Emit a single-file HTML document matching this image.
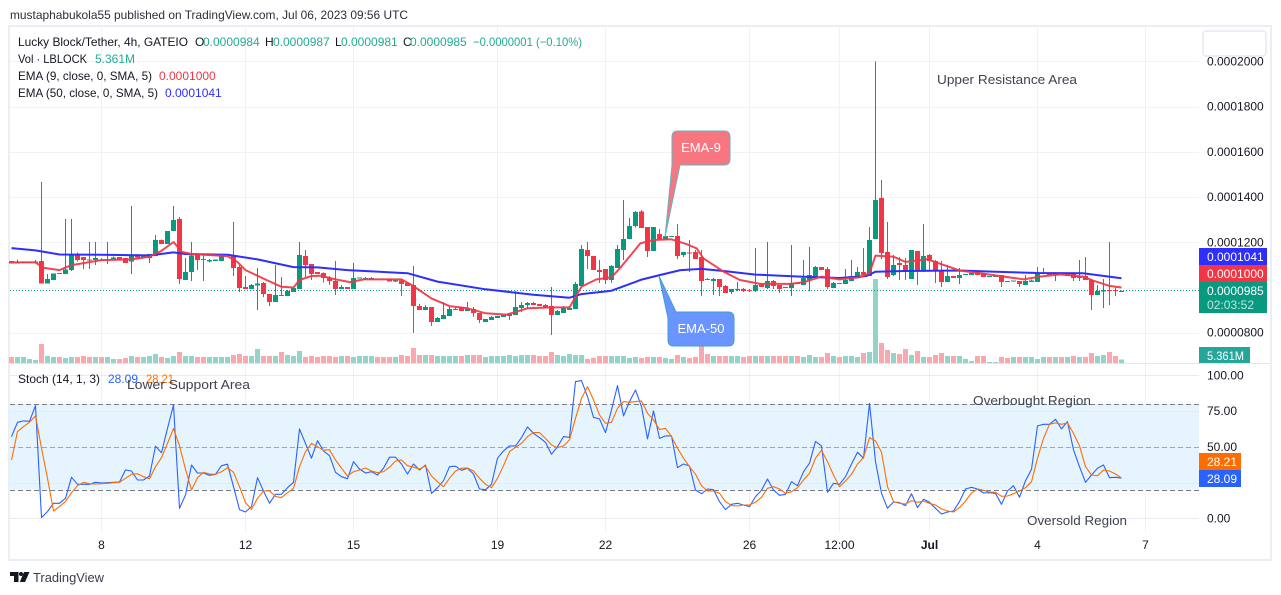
<!DOCTYPE html>
<html lang="en">
<head>
<meta charset="utf-8">
<title>Lucky Block/Tether chart</title>
<style>
html,body{margin:0;padding:0;background:#fff;width:1281px;height:595px;overflow:hidden}
svg{display:block}
text{font-family:"Liberation Sans",sans-serif;font-size:12px;fill:#131722}
</style>
</head>
<body>
<svg id="chart" xmlns="http://www.w3.org/2000/svg" width="1281" height="595" viewBox="0 0 1281 595">
  <text x="10" y="19" textLength="398" lengthAdjust="spacingAndGlyphs" fill="#131722" style="fill:#2a2e39">mustaphabukola55 published on TradingView.com, Jul 06, 2023 09:56 UTC</text>
  <rect x="9" y="26" width="1262" height="534" fill="#fff" stroke="#eceef3" stroke-width="2"/>
  <g id="grid"></g>
  <g id="stochBand"></g>
  <g id="volume"></g>
  <line x1="10" x2="1270" y1="363.5" y2="363.5" stroke="#e3e5ec" stroke-width="1"/>
  <line x1="10" x2="1199" y1="290.5" y2="290.5" stroke="#089981" stroke-width="1" stroke-dasharray="1 2"/>
  <g id="candles" shape-rendering="crispEdges"></g>
  <g id="emaLines"></g>
  <g id="stochLines"></g>

  <g>
    <path d="M678 131 H724 Q730 131 730 137 V159 Q730 165 724 165 H680 L665 237 L672 165 V137 Q672 131 678 131 Z" fill="#f7767f" stroke="#66b3c2" stroke-width="1"/>
    <text x="701" y="152" text-anchor="middle" style="fill:#fff;font-size:13px">EMA-9</text>
  </g>
  <g>
    <path d="M659 276 L676 312 H728 Q734 312 734 318 V340 Q734 346 728 346 H674 Q668 346 668 340 V318 Z" fill="#6a94ff" stroke="#3f9fd2" stroke-width="1"/>
    <text x="701" y="333" text-anchor="middle" style="fill:#fff;font-size:13px">EMA-50</text>
  </g>

  <g>
    <text x="18" y="46" textLength="170" lengthAdjust="spacingAndGlyphs">Lucky Block/Tether, 4h, GATEIO</text>
    <text x="195" y="46">O</text>
    <text x="203" y="46" style="fill:#22ab94">0.0000984</text>
    <text x="265" y="46">H</text>
    <text x="273" y="46" style="fill:#22ab94">0.0000987</text>
    <text x="335" y="46">L</text>
    <text x="341" y="46" style="fill:#22ab94">0.0000981</text>
    <text x="403" y="46">C</text>
    <text x="410" y="46" style="fill:#22ab94">0.0000985</text>
    <text x="473" y="46" textLength="109" lengthAdjust="spacingAndGlyphs" style="fill:#22ab94">−0.0000001 (−0.10%)</text>
    <text x="18" y="63" textLength="69" lengthAdjust="spacingAndGlyphs">Vol · LBLOCK</text>
    <text x="95" y="63" style="fill:#22ab94">5.361M</text>
    <text x="18" y="80" textLength="134" lengthAdjust="spacingAndGlyphs">EMA (9, close, 0, SMA, 5)</text>
    <text x="159" y="80" style="fill:#f23645">0.0001000</text>
    <text x="18" y="97" textLength="140" lengthAdjust="spacingAndGlyphs">EMA (50, close, 0, SMA, 5)</text>
    <text x="165" y="97" style="fill:#2e2eff">0.0001041</text>
    <text x="18" y="383" textLength="82" lengthAdjust="spacingAndGlyphs">Stoch (14, 1, 3)</text>
    <text x="108" y="383" textLength="30" lengthAdjust="spacingAndGlyphs" style="fill:#2962ff">28.09</text>
    <text x="146" y="383" textLength="28" lengthAdjust="spacingAndGlyphs" style="fill:#ff6d00">28.21</text>
  </g>

  <text x="937" y="84" textLength="140" lengthAdjust="spacingAndGlyphs" style="font-size:13px;fill:#3f4350">Upper Resistance Area</text>
  <text x="127" y="389" textLength="123" lengthAdjust="spacingAndGlyphs" style="font-size:13px;fill:#3f4350">Lower Support Area</text>
  <text x="973" y="405" textLength="118" lengthAdjust="spacingAndGlyphs" style="font-size:13px;fill:#3f4350">Overbought Region</text>
  <text x="1027" y="525" textLength="100" lengthAdjust="spacingAndGlyphs" style="font-size:13px;fill:#3f4350">Oversold Region</text>

  <g id="priceAxis"></g>
  <g id="stochAxis"></g>
  <g id="timeAxis"></g>

  <rect x="1203" y="31" width="63" height="25" rx="3" fill="#fff" stroke="#e7e9f0" stroke-width="1.5"/>

  <g>
    <rect x="1199" y="248" width="68" height="17" fill="#2e2eff"/>
    <text x="1207" y="261" style="fill:#fff">0.0001041</text>
    <rect x="1199" y="265" width="68" height="17" fill="#f23645"/>
    <text x="1207" y="278" style="fill:#fff">0.0001000</text>
    <rect x="1199" y="282" width="68" height="31" fill="#089981"/>
    <text x="1207" y="295" style="fill:#fff">0.0000985</text>
    <text x="1207" y="309" textLength="47" style="fill:#bfe6df">02:03:52</text>
    <rect x="1199" y="347" width="51" height="16" fill="#26a69a"/>
    <text x="1207" y="360" textLength="37" lengthAdjust="spacingAndGlyphs" style="fill:#fff">5.361M</text>
    <rect x="1199" y="453" width="42" height="17" fill="#ff6d00"/>
    <text x="1207" y="466" style="fill:#fff">28.21</text>
    <rect x="1199" y="470" width="42" height="17" fill="#2962ff"/>
    <text x="1207" y="483" style="fill:#fff">28.09</text>
  </g>

  <g>
    <path d="M10 572 H18.5 V582 H14 V576 H10 Z M24 572 H29.5 L25 582 H19.8 Z" fill="#131722"/>
    <circle cx="21" cy="574" r="2" fill="#131722"/>
    <text x="33" y="582" textLength="71" lengthAdjust="spacingAndGlyphs" style="font-size:13px;fill:#3a3e4a">TradingView</text>
  </g>
</svg>

<script>
const opens=[1117,1105,1109,1109,1109,1117,1017,1034,1064,1059,
1077,1148,1134,1124,1121,1124,1121,1123,1134,1130,
1114,1143,1132,1130,1139,1210,1192,1249,1302,1033,
1068,1143,1126,1114,1118,1118,1139,1143,1090,1002,
993,1008,1020,971,936,967,962,980,993,1139,
1104,1068,1063,1045,1029,994,1002,994,1041,1036,
1036,1039,1039,1038,1027,1032,1020,1011,918,901,
914,848,861,874,901,914,896,905,887,848,
857,865,870,874,879,910,923,932,927,923,
918,879,887,901,905,1007,1166,1139,1077,1082,
1033,1086,1166,1214,1272,1335,1268,1161,1237,1213,
1223,1228,1144,1154,1157,1135,1038,1029,1038,1007,
980,989,994,989,985,1016,998,1029,1011,1002,
998,1020,1011,1033,1047,1091,1082,998,1020,1016,
1029,1042,1069,1051,1214,1396,1157,1055,1108,1100,
1038,1161,1073,1144,1117,1077,1024,1051,1042,1055,
1055,1069,1064,1048,1048,1055,1029,1026,1029,1011,
1024,1024,1060,1064,1055,1063,1051,1064,1042,1051,
1033,967,982,989,988,984];
const highs=[1117,1124,1114,1114,1121,1466,1059,1062,1064,1302,
1302,1154,1134,1201,1201,1130,1201,1136,1134,1130,
1360,1148,1140,1148,1232,1213,1249,1360,1311,1130,
1201,1143,1151,1126,1123,1143,1148,1289,1099,1051,
1015,1086,1024,971,1099,1046,989,998,1201,1165,
1104,1068,1067,1051,1117,1011,1002,1108,1045,1047,
1047,1039,1039,1038,1039,1039,1020,1095,927,923,
914,870,936,914,914,914,936,914,887,861,
874,874,879,887,985,936,936,936,927,927,
1002,901,918,918,1024,1188,1201,1139,1122,1082,
1100,1188,1387,1307,1338,1343,1268,1268,1259,1228,
1228,1281,1157,1210,1166,1166,1042,1042,1038,1011,
994,1024,998,994,1175,1016,1201,1033,1011,1002,
1188,1020,1122,1179,1095,1091,1091,1024,1020,1082,
1122,1091,1175,1268,2000,1475,1290,1144,1135,1131,
1166,1161,1281,1148,1122,1117,1100,1051,1086,1060,
1064,1069,1064,1051,1051,1055,1029,1030,1029,1055,
1036,1091,1086,1064,1060,1063,1064,1064,1122,1135,
1033,1011,1038,1201,1002,987];
const lows=[1105,1105,1109,1109,1107,1017,1017,1034,1061,1059,
1073,1114,1081,1081,1099,1118,1104,1121,1121,1108,
1059,1133,1132,1108,1139,1192,1192,1249,1015,1033,
1028,1077,1028,1111,1118,1118,1139,1051,980,993,
993,900,958,918,936,962,962,980,993,1046,
1033,1059,1022,1011,967,994,994,994,1041,1033,
1033,1036,1036,1027,1024,963,1007,799,901,901,
830,848,861,874,901,896,896,870,843,848,
857,865,870,857,879,892,905,923,918,910,
790,879,887,901,905,1007,1082,1077,1020,1016,
1020,1086,1122,1214,1266,1263,1135,1161,1210,1213,
1223,1126,1135,1069,1126,963,1033,967,963,976,
971,985,980,980,980,1002,994,994,976,999,
963,1016,1011,985,1047,1077,994,998,1016,1016,
1029,1042,1055,1051,1214,1126,1038,1051,1033,1033,
1038,1011,1069,1077,1020,1002,1024,1042,1016,1055,
1055,1055,1047,1048,1048,1002,1026,1026,1002,1011,
1024,1024,1060,1055,1029,1055,1051,1029,1029,1033,
901,967,910,923,963,981];
const closes=[1105,1112,1114,1114,1114,1017,1037,1062,1061,1080,
1148,1121,1121,1121,1130,1121,1124,1132,1121,1108,
1143,1133,1140,1148,1210,1192,1249,1298,1037,1068,
1142,1121,1121,1121,1123,1143,1148,1086,998,993,
1011,1018,971,936,967,962,984,998,1143,1099,
1059,1059,1041,1029,994,1002,994,1042,1045,1041,
1042,1036,1036,1027,1033,1016,1007,918,901,914,
848,865,879,905,905,896,905,887,857,861,
870,874,879,883,914,923,932,923,918,910,
879,896,910,910,1016,1170,1139,1077,1069,1033,
1095,1170,1214,1272,1334,1263,1161,1268,1210,1228,
1228,1139,1157,1150,1126,1029,1033,1038,1002,976,
994,994,985,986,1011,1002,1029,1007,994,999,
1020,1016,1042,1055,1091,1077,1002,1020,1016,1033,
1051,1069,1055,1210,1387,1153,1047,1100,1100,1077,
1166,1073,1139,1117,1077,1024,1051,1042,1055,1060,
1064,1055,1047,1051,1051,1024,1026,1030,1016,1029,
1030,1060,1064,1055,1060,1055,1064,1042,1047,1033,
967,985,989,985,985,985];
const volumes=[8.7,8.7,8.7,5.8,4.4,27.6,10.2,8.7,8.7,7.3,
8.7,8.7,10.2,8.7,8.7,8.7,8.7,5.8,5.8,7.3,
10.2,8.7,8.7,10.2,13.1,8.7,7.3,10.2,16,10.2,
10.2,8.7,8.7,8.7,8.7,8.7,8.7,11.6,13.1,10.2,
10.2,20.3,10.2,10.2,10.2,16,11.6,10.2,17.4,8.7,
10.2,8.7,10.2,10.2,8.7,10.2,10.2,8.7,10.2,10.2,
10.2,8.7,8.7,8.7,8.7,11.6,10.2,21.8,11.6,11.6,
11.6,10.2,10.2,10.2,10.2,10.2,11.6,11.6,11.6,8.7,
10.2,10.2,10.2,11.6,10.2,11.6,11.6,11.6,10.2,10.2,
16,11.6,10.2,13.1,11.6,11.6,5.8,7.3,10.2,10.2,
10.2,10.2,10.2,7.3,8.7,7.3,8.7,8.7,8.7,7.3,
5.8,11.6,8.7,7.3,8.7,24.7,13.1,10.2,10.2,10.2,
10.2,10.2,8.7,10.2,10.2,10.2,10.2,10.2,10.2,10.2,
10.2,10.2,8.7,11.6,8.7,8.7,14.5,10.2,8.7,10.2,
10.2,8.7,14.5,16,121.8,29,18.9,14.5,13.1,20.3,
11.6,17.4,8.7,8.7,11.6,14.5,10.2,10.2,10.2,5.8,
2.9,10.2,10.2,1.5,1.5,8.7,7.3,8.7,8.7,8.7,
8.7,5.8,8.7,8.7,8.7,8.7,8.7,10.2,8.7,8.7,
14.5,10.2,11.6,16,10.2,5.361];
const ema9Bars=[0,4,5.3,8,10,15,20,23,25,27,28.4,30,36,37.6,39,42.5,45,47,48,50,51.5,54,56.4,58.7,65,66.7,70,73,76,79,82.5,86,90,93,95,97.5,100,101.4,104.8,107,110,112.6,114.2,115.3,118.7,121.4,124.8,129.8,132,135,138,141.4,143,144,147,149,152.6,158,163.7,168.7,171.4,174.8,178.6,180.3,183,185];
const ema9Values=[1111,1111,1087,1077,1099,1121,1124,1136,1162,1201,1158,1148,1139,1114,1077,1033,1003,1000,1033,1051,1052,1036,1024,1036,1036,1011,952,918,908,886,880,908,912,912,1004,1036,1045,1085,1195,1210,1213,1191,1173,1129,1070,1033,1016,1016,1023,1048,1036,1045,1063,1141,1136,1113,1125,1075,1055,1036,1048,1058,1048,1030,1007,1000];
const ema50Bars=[0,4,8,15,23,27,29,36,41,47,51,56,66,71,79,87,93,95,100,105,108,111.5,115,118.7,124,131.5,138,142.5,144,149,158,164,171,178.6,185];
const ema50Values=[1174,1164,1146,1145,1142,1155,1148,1145,1124,1090,1089,1077,1063,1026,992,968,955,971,986,1035,1055,1077,1082,1073,1057,1048,1042,1051,1070,1073,1075,1070,1064,1063,1041];
const stochK=[57.1,67.1,68.1,67.8,78.8,0.5,4.7,10.5,10.5,14,
28.7,23.8,23.8,23.8,25.2,24.7,24.9,25.2,25.4,33.8,
33.1,26.8,26.8,29.6,50.4,45.9,62.9,79.3,7,16.3,
37.3,31.7,31.7,30.1,30.8,36.8,37.8,22.1,6.1,4.4,
8.2,28.4,19.1,10.5,16.8,16.8,21.4,25.2,62.5,52.4,
42,54.3,47.1,43.8,32.2,29.1,27.7,39.6,34.5,31.7,
32.6,30.3,35,42.7,42.7,38,31,38,33.8,37.3,
17.5,21.4,26.3,36.1,36.4,33.6,35,31,20.5,20,
23.8,42,47.1,50.6,50.6,56.4,63.9,59.4,56.4,53.1,
44.8,50.1,57.1,56.6,95.6,96.3,85.1,70.6,69.5,59.9,
75.8,92.8,71.6,81.6,89.7,78.1,55.5,75.1,55.9,57.6,
57.6,35.4,38,36.6,19.8,17.2,20.5,20,11.7,6.1,
9.8,10.5,9.3,8.2,15.2,19.6,27.5,19.8,16.1,16.8,
25.6,22.8,32.6,38.5,53.8,50.6,18.2,24.5,23.8,29.1,
38,46.2,42,80.4,39.6,17.5,7,11.4,11,8.9,
17.2,7.5,13.3,11.2,7,3,4.4,5.1,11.7,20.5,
21.7,20.5,17.7,17.9,17.5,9.8,19.1,22.8,14.7,26.3,
34.3,64.6,65.7,65.7,69.2,62.5,67.6,47.8,36.1,25.2,
30.3,35,37.3,28.4,28.7,28.09];
const stochD=[40.8,60.6,64.1,67.1,71.6,49,28,5.1,8.2,11.7,
17.9,22.8,25.2,24.2,24,24.2,24.5,24.9,25.2,28,
30.8,31.2,29.1,27.7,36.1,42.4,52.4,62.9,50.6,34.3,
19.8,28.4,32.2,31,30.8,32.6,35.4,32.2,22.1,11,
6.3,14,19.1,19.3,15.2,14.5,17.9,21,36.1,46.6,
52.4,50.1,47.6,48,40.8,35,29.6,32.6,33.8,35.2,
33.1,31.9,32.6,35.7,40.1,40.8,36.8,35.7,34.5,36.6,
29.6,25.6,22.1,28,33.1,35,35.2,33.1,28,23.8,
21.4,28,36.8,46.6,49.7,52.4,57.1,59.9,59.9,55.9,
51.3,49.4,50.6,54.8,69.9,83.9,92.1,82.8,72.3,66.4,
67.1,76.9,81.6,81.1,81.6,82.1,73.4,68.8,62.2,62.9,
57.1,49,42,36.1,30.8,22.8,19.1,19.1,17.5,11.7,
8.9,8.6,9.3,9.3,11.2,14.7,21,22.1,20.5,17.5,
18.6,21.4,26.8,31.5,42,47.6,39.6,30.3,22.1,26.1,
30.8,38,42.4,56.4,54.1,46.2,22.1,11.7,10.5,10,
12.4,11.2,12.1,10.5,9.3,6.5,5.1,4.4,7.5,12.1,
17.7,20.5,19.6,18.4,18.2,15.4,15.6,17.2,19.1,21.4,
25.6,42,55.9,65.7,66.7,65.7,66.7,59.4,50.6,36.1,
30.3,29.8,33.8,33.1,31,28.21];
const priceTicks=[2000,1800,1600,1400,1200,1000,800];
const stochTicks=[100,75,50,25,0];
const stochLevels=[80,50,20];
const timeLabels=["8","12","15","19","22","26","12:00","Jul","4","7"];
const timeBars=[15,39,57,81,99,123,138,153,171,189];

const NS='http://www.w3.org/2000/svg';
const paneLeft=10, paneRight=1199;
function xBar(i){return 11.5+6*i;}
function yPrice(p){return 287.5+(1000-p)/4.42;}
function yStoch(v){return 518.3-1.43*v;}
function hVolume(v){return v/1.45;}
function mk(parent,tag,attrs,txt){
  const el=document.createElementNS(NS,tag);
  for(const k in attrs){el.setAttribute(k,attrs[k]);}
  if(txt!==undefined){el.textContent=txt;}
  parent.appendChild(el);
  return el;
}
const gGrid=document.getElementById('grid');
const gBand=document.getElementById('stochBand');
const gVol=document.getElementById('volume');
const gCandles=document.getElementById('candles');
const gEma=document.getElementById('emaLines');
const gStoch=document.getElementById('stochLines');
const gPrice=document.getElementById('priceAxis');
const gStochAxis=document.getElementById('stochAxis');
const gTime=document.getElementById('timeAxis');
const gridColor='#f1f2f6';

timeBars.forEach(function(b,k){
  const x=Math.floor(xBar(b))+0.5;
  const ln=mk(gGrid,'line',{x1:x,x2:x,y1:27,y2:532,stroke:gridColor,'stroke-width':1});
  
  
  const strong=timeLabels[k]==='Jul';
  const t=mk(gTime,'text',{x:x,y:549,'text-anchor':'middle',style:strong?'font-weight:bold;font-size:12px':'font-size:12px'},timeLabels[k]);
  
  
});
priceTicks.forEach(function(p){
  const y=Math.round(yPrice(p))+0.5;
  const ln=mk(gGrid,'line',{x1:paneLeft,x2:paneRight,y1:y,y2:y,stroke:gridColor,'stroke-width':1});
  
  
  const t=mk(gPrice,'text',{x:1207,y:yPrice(p)+4},(p/1e7).toFixed(7));
  
  
});
const bandRect=mk(gBand,'rect',{x:paneLeft,y:yStoch(stochLevels[0]),width:paneRight-paneLeft,height:yStoch(stochLevels[2])-yStoch(stochLevels[0]),fill:'#e6f4fe'});


stochTicks.forEach(function(v){
  const y=Math.round(yStoch(v))+0.5;
  const ln=mk(gBand,'line',{x1:paneLeft,x2:paneRight,y1:y,y2:y,stroke:'#e9ebf1','stroke-width':1});
  
  
  const t=mk(gStochAxis,'text',{x:1207,y:yStoch(v)+4},v.toFixed(2));
  
  
});
stochLevels.forEach(function(v){
  const y=Math.round(yStoch(v))+0.5;
  const ln=mk(gBand,'line',{x1:paneLeft,x2:paneRight,y1:y,y2:y,stroke:v===50?'#a4a7b0':'#787b86','stroke-width':1,'stroke-dasharray':'5 3'});
  
  
});

volumes.forEach(function(v,i){
  const h=hVolume(v);
  const up=closes[i]>=opens[i];
  const r=mk(gVol,'rect',{x:Math.floor(xBar(i))-2,y:363-h,width:5,height:h,fill:up?'#94d3ca':'#f8a9ad','shape-rendering':'crispEdges'});
  
  
});

opens.forEach(function(o,i){
  const c=closes[i], up=c>=o;
  const col=up?'#089981':'#f23645';
  const x=Math.floor(xBar(i));
  const wick=mk(gCandles,'rect',{x:x,y:yPrice(highs[i]),width:1,height:Math.max(1,yPrice(lows[i])-yPrice(highs[i])),fill:col});
  
  
  const top=Math.min(yPrice(o),yPrice(c));
  const body=mk(gCandles,'rect',{x:x-2,y:top,width:5,height:Math.max(1,Math.abs(yPrice(o)-yPrice(c))),fill:col});
  
  
});

function linePoints(bars,vals,yf){
  return vals.map(function(v,k){return xBar(bars[k]).toFixed(1)+','+yf(v).toFixed(1);}).join(' ');
}
const allBars=stochK.map(function(_,i){return i;});
const ema50Line=mk(gEma,'polyline',{points:linePoints(ema50Bars,ema50Values,yPrice),fill:'none',stroke:'#2e2eff','stroke-width':2,'stroke-linejoin':'round'});


const ema9Line=mk(gEma,'polyline',{points:linePoints(ema9Bars,ema9Values,yPrice),fill:'none',stroke:'#f23645','stroke-width':2,'stroke-linejoin':'round','stroke-opacity':0.92});


const kLine=mk(gStoch,'polyline',{points:linePoints(allBars,stochK,yStoch),fill:'none',stroke:'#2962ff','stroke-width':1.1,'stroke-linejoin':'round'});


const dLine=mk(gStoch,'polyline',{points:linePoints(allBars,stochD,yStoch),fill:'none',stroke:'#ff6d00','stroke-width':1.1,'stroke-linejoin':'round'});


</script>
</body>
</html>
